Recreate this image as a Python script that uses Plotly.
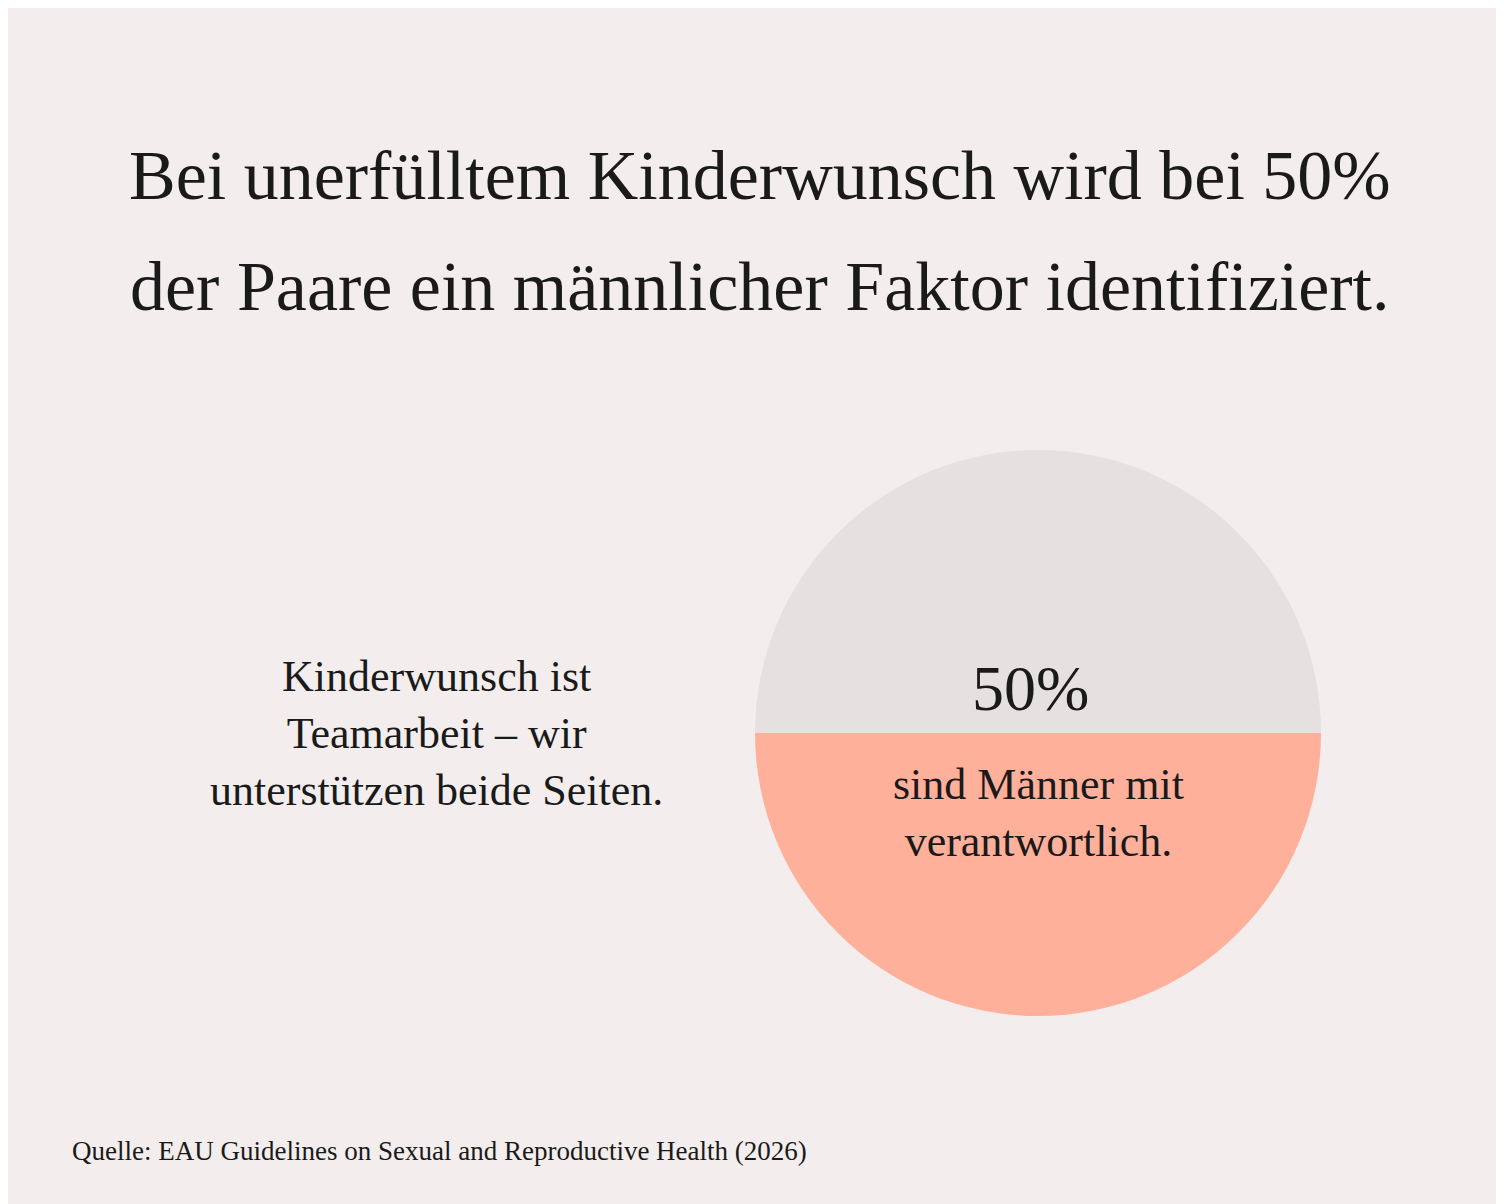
import plotly.graph_objects as go

labels = ["Andere", "Männlicher Faktor"]
values = [50, 50]
colors = ["#E6E0E0", "#FFB09A"]

title_lines = ["Bei unerfülltem Kinderwunsch wird bei 50%", "der Paare ein männlicher Faktor identifiziert."]
side_text = "Kinderwunsch ist<br>Teamarbeit – wir<br>unterstützen beide Seiten."
big_label = "50%"
sub_label = "sind Männer mit<br>verantwortlich."
source = "Quelle: EAU Guidelines on Sexual and Reproductive Health (2026)"

W, H = 1504, 1204
font = "Liberation Serif"
ink = "#1a1a1a"

fig = go.Figure(go.Pie(
    labels=labels, values=values, sort=False, direction="clockwise", rotation=270,
    marker=dict(colors=colors, line=dict(width=0)), textinfo="none", hoverinfo="label+percent",
    domain=dict(x=[747 / W, 1313 / W], y=[1 - 1008 / H, 1 - 442 / H]), showlegend=False,
))

def ann(text, x, y, size, xanchor="center", yanchor="middle", align="center"):
    fig.add_annotation(text=text, x=x / W, y=1 - y / H, xref="paper", yref="paper",
                       showarrow=False, xanchor=xanchor, yanchor=yanchor, align=align,
                       font=dict(family=font, size=size, color=ink))

ann(title_lines[0], 752, 167, 70)
ann(title_lines[1], 752, 278, 70)
ann(side_text, 428, 725, 44)
ann(big_label, 1022, 680, 64)
ann(sub_label, 1030, 805, 44)
ann(source, 62, 1143, 27, xanchor="left")

fig.update_layout(width=W, height=H, margin=dict(l=0, r=0, t=0, b=0),
                  paper_bgcolor="#F3EEED", plot_bgcolor="#F3EEED")
fig.write_html("out.html")
